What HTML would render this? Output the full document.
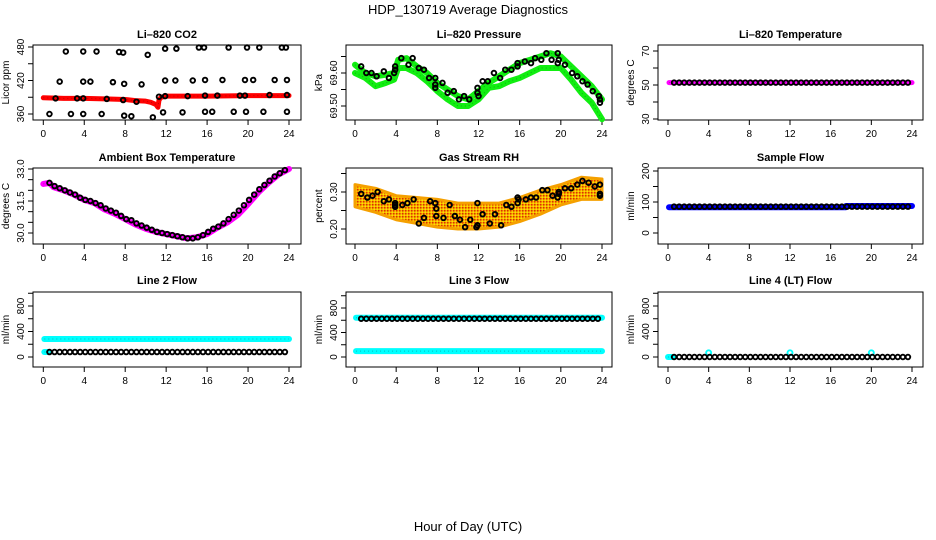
<!DOCTYPE html>
<html><head><meta charset="utf-8"><style>
body{margin:0;background:#fff}
svg{display:block;font-family:"Liberation Sans",sans-serif}
</style></head><body>
<svg id="c" width="936" height="540" viewBox="0 0 936 540" xmlns="http://www.w3.org/2000/svg">
<defs>
<pattern id="rhpat" width="3" height="3" patternUnits="userSpaceOnUse"><rect width="3" height="3" fill="#f5b000"/><rect width="1.5" height="1.5" fill="#e03000"/><rect x="1.5" y="1.5" width="1.5" height="1.5" fill="#ffe000"/></pattern>
</defs>
<text x="468" y="14" text-anchor="middle" font-size="13">HDP_130719  Average Diagnostics</text>
<text x="468" y="531" text-anchor="middle" font-size="13">Hour of Day (UTC)</text>
</svg>
<script>
const hours=[0.6,1.1,1.6,2.1,2.6,3.1,3.6,4.1,4.6,5.1,5.6,6.1,6.6,7.1,7.6,8.1,8.6,9.1,9.6,10.1,10.6,11.1,11.6,12.1,12.6,13.1,13.6,14.1,14.6,15.1,15.6,16.1,16.6,17.1,17.6,18.1,18.6,19.1,19.6,20.1,20.6,21.1,21.6,22.1,22.6,23.1,23.6];
const xTicks=[0,4,8,12,16,20,24];
// CO2
const co2RedH=[0,2,4,6,8,9,10,10.5,11,11.2,11.3,11.5,12,16,20,24];
const co2RedV=[389,388,388,387,386,384,383,381,377,372,385,390,392,392,393,393];
const co2PtsH=[0.6,1.2,1.6,2.2,2.7,3.3,3.9,3.9,3.9,3.9,4.6,5.2,5.7,6.2,6.8,7.4,7.8,7.8,7.9,7.9,8.6,9.1,9.6,10.2,10.7,11.3,11.7,11.9,11.9,11.9,12.9,13.0,13.6,14.1,14.6,15.2,15.7,15.8,15.8,15.8,16.5,17.0,17.5,18.1,18.6,19.2,19.7,19.7,19.8,19.9,20.5,21.1,21.5,22.1,22.6,23.3,23.7,23.8,23.8,23.8];
const co2PtsV=[360,388,418,472,360,388,388,472,418,360,418,472,360,387,417,471,470,385,414,357,356,382,413,466,354,391,363,420,392,477,420,477,363,392,420,479,479,393,421,364,364,393,421,479,364,393,421,393,364,479,421,479,364,394,421,479,479,421,394,364];
// Pressure
const presH=[0,1,2,3,3.8,4.2,5,6,7,8,9,10,11,12,13,14,15,16,17,18,19,20,21,22,23,24];
const presUpper=[69.625,69.60,69.59,69.595,69.60,69.64,69.645,69.62,69.60,69.57,69.55,69.53,69.52,69.545,69.57,69.59,69.61,69.63,69.64,69.65,69.66,69.65,69.62,69.59,69.56,69.52];
const presLower=[69.60,69.585,69.56,69.57,69.58,69.615,69.615,69.60,69.575,69.545,69.52,69.50,69.50,69.52,69.555,69.56,69.575,69.585,69.60,69.615,69.615,69.615,69.58,69.54,69.51,69.46];
const presPtsH=[0.6,1.1,1.6,2.1,2.8,3.3,3.8,3.9,3.9,4.5,5.2,5.6,6.2,6.7,7.2,7.8,7.8,7.8,8.5,9.0,9.6,10.1,10.6,11.1,11.9,11.9,12.0,12.4,12.9,13.5,14.1,14.6,15.2,15.8,15.8,16.5,17.1,17.5,18.1,18.6,19.1,19.7,19.7,19.8,20.4,21.1,21.6,22.1,22.6,23.1,23.7,23.8,23.8];
const presPtsV=[69.62,69.60,69.60,69.59,69.605,69.585,69.60,69.61,69.62,69.645,69.625,69.645,69.615,69.61,69.585,69.585,69.565,69.555,69.57,69.54,69.545,69.52,69.53,69.52,69.555,69.54,69.53,69.575,69.575,69.60,69.585,69.61,69.61,69.62,69.63,69.635,69.63,69.645,69.64,69.66,69.64,69.66,69.63,69.64,69.625,69.60,69.59,69.575,69.565,69.545,69.53,69.52,69.51];
// Li-820 temperature
const tempColH=[0.1,24];
const tempColV=[51.4,51.4];
const tempPts=[51.4,51.4,51.4,51.4,51.4,51.4,51.4,51.4,51.4,51.4,51.4,51.4,51.4,51.4,51.4,51.4,51.4,51.4,51.4,51.4,51.4,51.4,51.4,51.4,51.4,51.4,51.4,51.4,51.4,51.4,51.4,51.4,51.4,51.4,51.4,51.4,51.4,51.4,51.4,51.4,51.4,51.4,51.4,51.4,51.4,51.4,51.4];
// Ambient box temperature
const ambColH=[0,0.6,1,2,3,4,5,6,7,8,9,10,11,12,13,14,15,16,17,18,19,20,21,22,23,24];
const ambColV=[32.3,32.35,32.15,32.0,31.8,31.55,31.4,31.1,30.9,30.65,30.4,30.2,30.05,29.95,29.85,29.75,29.8,29.95,30.25,30.5,30.85,31.35,31.9,32.35,32.75,33.0];
const ambPts=[32.35,32.2,32.1,32.0,31.9,31.8,31.65,31.55,31.5,31.4,31.3,31.15,31.05,30.95,30.8,30.65,30.6,30.45,30.35,30.25,30.15,30.05,30.0,29.95,29.9,29.85,29.8,29.75,29.75,29.8,29.9,30.05,30.2,30.3,30.45,30.65,30.85,31.05,31.3,31.55,31.8,32.05,32.25,32.45,32.65,32.8,32.95];
// RH
const rhBandH=[0,2,4,6,8,10,12,14,16,18,20,22,24];
const rhUpper=[0.32,0.31,0.29,0.285,0.28,0.27,0.27,0.27,0.285,0.305,0.32,0.34,0.335];
const rhLower=[0.26,0.245,0.225,0.215,0.205,0.20,0.20,0.205,0.22,0.24,0.265,0.28,0.28];
const rhPtsH=[0.6,1.2,1.7,2.2,2.8,3.3,3.9,3.9,3.9,4.6,5.1,5.7,6.2,6.7,7.3,7.8,7.9,7.9,8.6,9.2,9.7,10.2,10.7,11.2,11.8,11.9,11.9,12.4,13.1,13.6,14.2,14.7,15.2,15.8,15.8,15.9,16.6,17.1,17.6,18.2,18.7,19.2,19.7,19.8,19.8,20.4,21.0,21.6,22.1,22.7,23.3,23.8,23.8,23.8];
const rhPtsV=[0.295,0.285,0.29,0.30,0.275,0.28,0.27,0.26,0.265,0.265,0.27,0.28,0.215,0.23,0.275,0.27,0.255,0.235,0.23,0.265,0.235,0.225,0.205,0.225,0.205,0.27,0.21,0.24,0.215,0.24,0.21,0.265,0.26,0.27,0.285,0.28,0.28,0.285,0.285,0.305,0.305,0.29,0.285,0.30,0.295,0.31,0.31,0.32,0.33,0.325,0.315,0.32,0.295,0.29];
// Sample flow
const sfColH=[0.1,17.5,17.5,24];
const sfColV=[83,83,87,87];
const sfPts=[85,85,85,85,85,85,85,85,85,85,85,85,85,85,85,85,85,85,85,85,85,85,85,85,85,85,85,85,85,85,85,85,85,85,85,85,85,85,85,85,85,85,85,85,85,85,85];
// Line 2
const l2ColH=[0.1,24];
const l2ColV=[282,282];
const l2Pts=[78,78,78,78,78,78,78,78,78,78,78,78,78,78,78,78,78,78,78,78,78,78,78,78,78,78,78,78,78,78,78,78,78,78,78,78,78,78,78,78,78,78,78,78,78,78,78];
// Line 3
const l3ColH=[0.1,24];
const l3ColV=[640,640];
const l3LowH=[0.1,24];
const l3LowV=[95,95];
const l3Pts=[625,625,625,625,625,625,625,625,625,625,625,625,625,625,625,625,625,625,625,625,625,625,625,625,625,625,625,625,625,625,625,625,625,625,625,625,625,625,625,625,625,625,625,625,625,625,625];
// Line 4
const l4ColH=[0.1,24];
const l4ColV=[0,0];
const l4SpikeH=[4,12,20];
const l4SpikeV=[65,65,65];
const l4Pts=[0,0,0,0,0,0,0,0,0,0,0,0,0,0,0,0,0,0,0,0,0,0,0,0,0,0,0,0,0,0,0,0,0,0,0,0,0,0,0,0,0,0,0,0,0,0,0];

const NS='http://www.w3.org/2000/svg';
const svg=document.getElementById('c');
function mk(tag,attrs,parent){const e=document.createElementNS(NS,tag);for(const k in attrs)e.setAttribute(k,attrs[k]);(parent||svg).appendChild(e);return e;}

const cols=[{bx0:33,bx1:301,x0:43.3,x24:289},{bx0:346,bx1:612,x0:355,x24:602},{bx0:658,bx1:923,x0:668,x24:912}];
const rows=[{by0:45,by1:120,ty:38},{by0:168,by1:244,ty:161},{by0:292,by1:367,ty:284}];

function panel(name,title,ylab,c,r,v1,p1,v2,p2,ticks,labels){
  const C=cols[c],R=rows[r];
  const g=mk('g',{});
  
  
  const sx=h=>C.x0+(C.x24-C.x0)*h/24;
  const sy=v=>p1+(p2-p1)*(v-v1)/(v2-v1);
  const t=mk('text',{x:(C.bx0+C.bx1)/2,y:R.ty,'text-anchor':'middle','font-size':'11','font-weight':'bold'},g);
  t.textContent=title;
  
  
  const box=mk('rect',{x:C.bx0,y:R.by0,width:C.bx1-C.bx0,height:R.by1-R.by0,fill:'none',stroke:'#000','stroke-width':1},g);
  
  
  const xa=mk('g',{},g);
  
  
  mk('line',{x1:sx(0),x2:sx(24),y1:R.by1,y2:R.by1,stroke:'#000'},xa);
  xTicks.forEach(h=>{mk('line',{x1:sx(h),x2:sx(h),y1:R.by1,y2:R.by1+5,stroke:'#000'},xa);
    const l=mk('text',{x:sx(h),y:R.by1+17,'text-anchor':'middle','font-size':'10'},xa);l.textContent=h;});
  const ya=mk('g',{},g);
  
  
  mk('line',{x1:C.bx0,x2:C.bx0,y1:sy(ticks[0]),y2:sy(ticks[ticks.length-1]),stroke:'#000'},ya);
  ticks.forEach(v=>{mk('line',{x1:C.bx0-5,x2:C.bx0,y1:sy(v),y2:sy(v),stroke:'#000'},ya);});
  labels.forEach(v=>{const y=sy(parseFloat(v));const l=mk('text',{x:C.bx0-9,y:y,'text-anchor':'middle','font-size':'10',transform:`rotate(-90 ${C.bx0-9} ${y})`},ya);l.textContent=v;});
  const yl=mk('text',{x:C.bx0-24,y:(R.by0+R.by1)/2,'text-anchor':'middle','font-size':'10',transform:`rotate(-90 ${C.bx0-24} ${(R.by0+R.by1)/2})`},g);
  yl.textContent=ylab;
  
  
  return {g,sx,sy};
}
function band(P,H,V,color,w,nm){
  const pl=mk('polyline',{points:H.map((h,i)=>P.sx(h)+','+P.sy(V[i])).join(' '),fill:'none',stroke:color,'stroke-width':w,'stroke-linecap':'round','stroke-linejoin':'round'},P.g);
  
  
  const dl=mk('polyline',{points:H.map((h,i)=>P.sx(h)+','+P.sy(V[i])).join(' '),fill:'none',stroke:'#000','stroke-opacity':0.25,'stroke-width':1,'stroke-dasharray':'1 3'},P.g);
  
  
}
function pts(P,H,V,color,nm,r){
  const g=mk('g',{},P.g);
  
  
  H.forEach((h,i)=>{mk('circle',{cx:P.sx(h),cy:P.sy(V[i]),r:r||2.3,fill:'none',stroke:color,'stroke-width':1.9},g);});
}

let P;
P=panel('co2','Li\u2013820 CO2','Licor ppm',0,0,480,47,360,114,[360,390,420,450,480],['360','420','480']);
band(P,co2RedH,co2RedV,'#ff0000',5,'co2-red-series');
pts(P,co2PtsH,co2PtsV,'#000','co2-black-points');

P=panel('pressure','Li\u2013820 Pressure','kPa',1,0,69.60,73,69.50,106,[69.50,69.55,69.60,69.65],['69.50','69.60']);
band(P,presH,presUpper,'#11ee11',6,'pressure-upper-band');
band(P,presH,presLower,'#11ee11',6,'pressure-lower-band');
pts(P,presPtsH,presPtsV,'#000','pressure-black-points');

P=panel('li820-temp','Li\u2013820 Temperature','degrees C',2,0,70,51,30,119,[30,40,50,60,70],['30','50','70']);
band(P,tempColH,tempColV,'#ff00ff',5,'li820-temp-magenta-series');
pts(P,hours,tempPts,'#000','li820-temp-black-points');

P=panel('ambient','Ambient Box Temperature','degrees C',0,1,33.0,169,30.0,233,[30.0,30.5,31.0,31.5,32.0,32.5,33.0],['30.0','31.5','33.0']);
band(P,ambColH,ambColV,'#ff00ff',6,'ambient-magenta-series');
pts(P,hours,ambPts,'#000','ambient-black-points');

P=panel('rh','Gas Stream RH','percent',1,1,0.30,192,0.20,229,[0.20,0.25,0.30,0.35],['0.20','0.30']);
{const poly=mk('polygon',{points:rhBandH.map((h,i)=>P.sx(h)+','+P.sy(rhUpper[i])).concat(rhBandH.slice().reverse().map((h,i)=>P.sx(h)+','+P.sy(rhLower[rhBandH.length-1-i]))).join(' '),fill:'url(#rhpat)',stroke:'#f5a000','stroke-width':3,'stroke-linejoin':'round'},P.g);

}
pts(P,rhPtsH,rhPtsV,'#000','rh-black-points');

P=panel('sample-flow','Sample Flow','ml/min',2,1,200,171,0,233,[0,50,100,150,200],['0','100','200']);
band(P,sfColH,sfColV,'#0000ff',6,'sample-flow-blue-series');
pts(P,hours,sfPts,'#000','sample-flow-black-points');

P=panel('line2','Line 2 Flow','ml/min',0,2,800,306,0,357,[0,200,400,600,800,1000],['0','400','800']);
band(P,l2ColH,l2ColV,'#00ffff',6,'line2-cyan-series');
band(P,[0.1,0.6],[78,78],'#00ffff',6,'line2-cyan-low');
pts(P,hours,l2Pts,'#000','line2-black-points');

P=panel('line3','Line 3 Flow','ml/min',1,2,800,308,0,357,[0,200,400,600,800,1000],['0','400','800']);
band(P,l3ColH,l3ColV,'#00ffff',6,'line3-cyan-series');
band(P,l3LowH,l3LowV,'#00ffff',6,'line3-cyan-low-series');
pts(P,hours,l3Pts,'#000','line3-black-points');

P=panel('line4','Line 4 (LT) Flow','ml/min',2,2,800,306,0,357,[0,200,400,600,800,1000],['0','400','800']);
band(P,[0,0.6],[0,0],'#00ffff',6,'line4-cyan-start');
pts(P,l4SpikeH,l4SpikeV,'#00ffff','line4-cyan-spikes',2.5);
pts(P,hours,l4Pts,'#000','line4-black-points');
</script>
</body></html>
